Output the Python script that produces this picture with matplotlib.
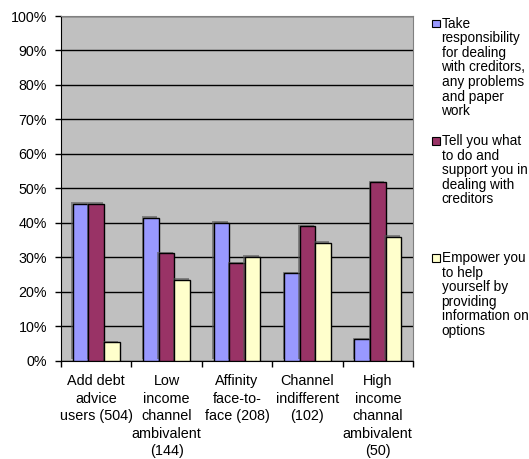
import matplotlib
matplotlib.use("Agg")
import matplotlib.pyplot as plt
import matplotlib.patheffects as pe
from matplotlib.patches import Rectangle
import numpy as np

plt.rcParams['font.family'] = ['Liberation Sans', 'DejaVu Sans']

# data ###############################################################
groups = ["Add debt\nadvice\nusers (504)", "Low\nincome\nchannel\nambivalent\n(144)",
          "Affinity\nface-to-\nface (208)", "Channel\nindifferent\n(102)",
          "High\nincome\nchannal\nambivalent\n(50)"]
take_resp = [45.5, 41.5, 40.0, 25.3, 6.2]
tell_you = [45.5, 31.1, 28.2, 39.0, 51.8]
empower = [5.4, 23.5, 30.1, 34.2, 35.9]
series_names = ["Take\nresponsibility\nfor dealing\nwith creditors,\nany problems\nand paper\nwork",
                "Tell you what\nto do and\nsupport you in\ndealing with\ncreditors",
                "Empower you\nto help\nyourself by\nproviding\ninformation on\noptions"]
colors = ["#9999FF", "#993366", "#FFFFCC"]
yticks = [0, 10, 20, 30, 40, 50, 60, 70, 80, 90, 100]

W, H = 529, 459
fig = plt.figure(figsize=(W / 100, H / 100), dpi=100)
ax = fig.add_axes([61 / W, 1 - 360.5 / H, (413 - 61) / W, (360.5 - 16) / H])
ax.set_facecolor("#C0C0C0")

x = np.arange(len(groups))
bw = 0.222
shadow = [pe.SimplePatchShadow(offset=(-1, 1), shadow_rgbFace="#555555", alpha=0.6), pe.Normal()]
for i, vals in enumerate([take_resp, tell_you, empower]):
    bars = ax.bar(x + (i - 1) * bw, vals, bw, color=colors[i], edgecolor="black",
                  linewidth=1, zorder=3)
    for b in bars:
        b.set_path_effects(shadow)

ax.set_ylim(0, 100)
ax.set_xlim(-0.5, len(groups) - 0.5)
ax.set_yticks(yticks)
ax.set_yticklabels([str(t) + "%" for t in yticks], fontsize=10.3)
ax.yaxis.grid(True, color="black", linewidth=1, zorder=1)
ax.set_axisbelow(True)
ax.tick_params(axis="y", direction="out", length=4, width=1, pad=6)

ax.set_xticks(x)
ax.set_xticklabels(groups, fontsize=10.4, linespacing=1.32)
ax.set_xticks(np.arange(-0.5, len(groups)), minor=True)
ax.tick_params(axis="x", which="major", length=0, pad=10)
ax.tick_params(axis="x", which="minor", direction="out", length=4, width=1)

for s in ["top", "right"]:
    ax.spines[s].set_color("#808080")
for s in ["left", "bottom"]:
    ax.spines[s].set_color("black")

# legend by hand ###################################################
starts = [23.5, 141, 258]
step = 14.6
for i, name in enumerate(series_names):
    lines = name.split("\n")
    y0 = starts[i]
    fig.patches.append(Rectangle((432 / W, 1 - (y0 + 3.8) / H), 7.5 / W, 7.5 / H,
                                 transform=fig.transFigure, facecolor=colors[i],
                                 edgecolor="black", linewidth=0.8))
    for j, ln in enumerate(lines):
        fig.text(441.5 / W, 1 - (y0 + step * j) / H, ln, fontsize=9.8,
                 va="center", ha="left")

fig.savefig("out.png", dpi=100)
